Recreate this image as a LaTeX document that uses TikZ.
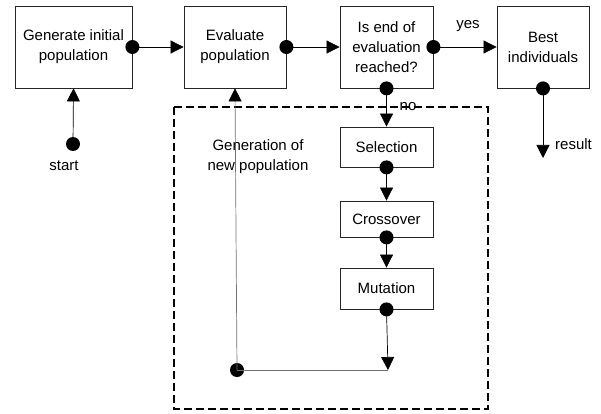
\documentclass[tikz,border=0pt]{standalone}
\usepackage{fontspec}
\setmainfont{Liberation Sans}
\usetikzlibrary{arrows.meta}
\begin{document}
\begin{tikzpicture}[x=1pt,y=-1pt,
  box/.style={draw=black!85,line width=0.8pt,fill=white,align=center,font=\fontsize{15}{20}\selectfont,inner sep=0pt},
  conn/.style={line width=0.7pt,-{Triangle[width=13pt,length=13pt,color=black]}},
  plain/.style={line width=0.7pt,draw=black!55},
  dot/.style={circle,fill=black,inner sep=0pt,minimum size=14pt},
  lbl/.style={font=\fontsize{15}{20}\selectfont,inner sep=0pt}]
\useasboundingbox (0,0) rectangle (601,414);
% dashed region
\draw[line width=1.2pt,dash pattern=on 8pt off 4pt] (174,107) rectangle (488,409);
% boxes
\node[box,minimum width=117pt,minimum height=82pt] (gen) at (73.5,47) {Generate initial\\population};
\node[box,minimum width=102pt,minimum height=82pt] (eval) at (235,47) {Evaluate\\population};
\node[box,minimum width=93pt,minimum height=82pt] (end) at (386.5,47) {Is end of\\evaluation\\reached?};
\node[box,minimum width=92pt,minimum height=82pt] (best) at (543,47) {Best\\individuals};
\node[box,minimum width=93pt,minimum height=40pt] (sel) at (386.5,147) {Selection};
\node[box,minimum width=93pt,minimum height=36pt] (cross) at (386.5,219) {Crossover};
\node[box,minimum width=93pt,minimum height=41pt] (mut) at (386.5,288.5) {Mutation};
% dots
\node[dot] (d1) at (gen.east) {};
\node[dot] (d2) at (eval.east) {};
\node[dot] (d3) at (end.east) {};
\node[dot] (d4) at (end.south) {};
\node[dot] (d5) at (best.south) {};
\node[dot] (d6) at (sel.south) {};
\node[dot] (d7) at (cross.south) {};
\node[dot] (d8) at (mut.south) {};
\node[dot] (ds) at (73,144) {};
\node[dot] (dl) at (237,370) {};
\coordinate (res) at (543,158);
\coordinate (corner) at (388,370);
% connectors
\draw[conn] (d1.center) -- (eval.west);
\draw[conn] (d2.center) -- (end.west);
\draw[conn] (d3.center) -- (best.west);
\draw[conn] (ds.center) -- (gen.south);
\draw[conn] (d4.center) -- (sel.north);
\draw[conn] (d6.center) -- (cross.north);
\draw[conn] (d7.center) -- (mut.north);
\draw[conn] (d5.center) -- (res);
\draw[conn] (d8.center) -- (corner);
\draw[plain] (corner) -- (dl.center);
\draw[conn,draw=black!55] (dl.center) -- (eval.south);
% labels
\node[lbl] (ls) at (64,166) {start};
\node[lbl] (ly) at (468,26) {yes};
\node[lbl] (ln) at (408,107) {no};
\node[lbl,anchor=west] (lr) at (555,144) {result};
\node[lbl,align=center,font=\fontsize{15}{20}\selectfont] (lg) at (258,157) {Generation of\\new population};
\end{tikzpicture}
\end{document}
